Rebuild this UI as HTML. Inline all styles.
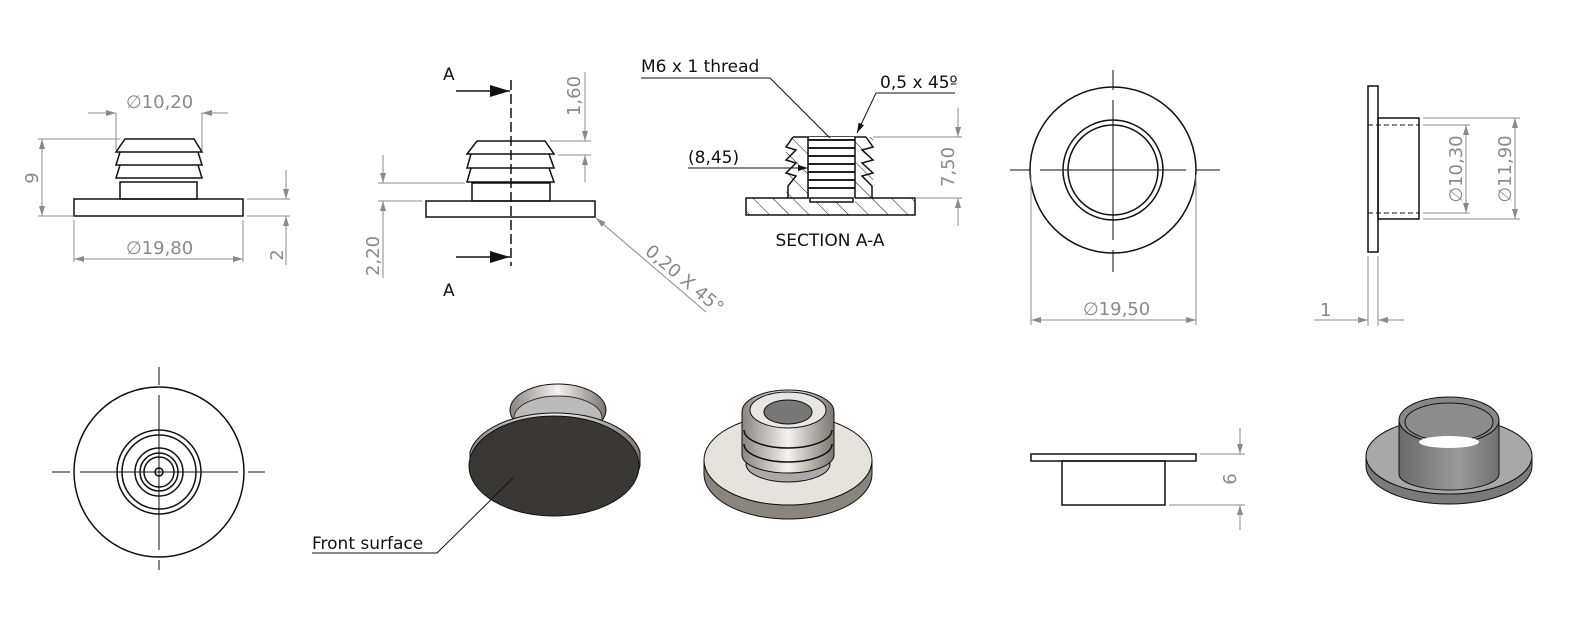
<!DOCTYPE html>
<html><head><meta charset="utf-8"><style>
html,body{margin:0;padding:0;background:#fff;}
svg{display:block;font-family:"DejaVu Sans","Liberation Sans",sans-serif;}
.d{stroke:#8a8a8a;stroke-width:1;fill:none}
.k{stroke:#111;stroke-width:1.5;fill:none}
.t{fill:#8a8a8a;font-size:18px}
.b{fill:#111;font-size:17px}
</style></head><body>
<svg width="1572" height="624" viewBox="0 0 1572 624" xmlns="http://www.w3.org/2000/svg">
<defs>
<marker id="a" viewBox="0 0 10 6" refX="10" refY="3" markerWidth="14" markerHeight="6" markerUnits="userSpaceOnUse" orient="auto-start-reverse"><path d="M0,0L10,3L0,6z" fill="#8a8a8a"/></marker>
<marker id="ak" viewBox="0 0 10 6" refX="10" refY="3" markerWidth="26" markerHeight="12" markerUnits="userSpaceOnUse" orient="auto"><path d="M0,0L10,3L0,6z" fill="#111"/></marker>
<marker id="as" viewBox="0 0 10 6" refX="10" refY="3" markerWidth="14" markerHeight="6" markerUnits="userSpaceOnUse" orient="auto"><path d="M0,0L10,3L0,6z" fill="#111"/></marker>
<pattern id="h" width="14" height="14" patternUnits="userSpaceOnUse" patternTransform="rotate(-45)"><line x1="0" y1="0" x2="0" y2="14" stroke="#111" stroke-width="1"/></pattern>
<linearGradient id="g1" x1="0" x2="1"><stop offset="0" stop-color="#8a8580"/><stop offset=".5" stop-color="#f4f2ef"/><stop offset="1" stop-color="#7a7570"/></linearGradient>
<linearGradient id="g2" x1="0" x2="1"><stop offset="0" stop-color="#6a6a6a"/><stop offset=".6" stop-color="#9a9a9a"/><stop offset="1" stop-color="#707070"/></linearGradient>
</defs>

<!-- View 1 -->
<rect class="k" x="74" y="199" width="169" height="17"/>
<rect class="k" x="120" y="182" width="77" height="17"/>
<path class="k" d="M125,139H194L202,152H116Z M120,152H198L202,165H116Z M120,165H198L202,178H116Z M120,178H197"/>
<path class="d" d="M116,113V150M202,113V150M88,113H116M202,113H228"/>
<line class="d" x1="96" y1="113" x2="116" y2="113" marker-end="url(#a)"/>
<line class="d" x1="222" y1="113" x2="202" y2="113" marker-end="url(#a)"/>
<text class="t" x="126" y="108">∅10,20</text>
<path class="d" d="M38,139H120M38,216H74"/>
<line class="d" x1="42" y1="178" x2="42" y2="139" marker-end="url(#a)"/>
<line class="d" x1="42" y1="178" x2="42" y2="216" marker-end="url(#a)"/>
<text class="t" transform="translate(38,178) rotate(-90)" text-anchor="middle">9</text>
<path class="d" d="M74,220V262M243,220V262M247,199H290M247,216H290"/>
<line class="d" x1="158" y1="259" x2="74" y2="259" marker-end="url(#a)"/>
<line class="d" x1="158" y1="259" x2="243" y2="259" marker-end="url(#a)"/>
<text class="t" x="126" y="254">∅19,80</text>
<line class="d" x1="286" y1="170" x2="286" y2="199" marker-end="url(#a)"/>
<line class="d" x1="286" y1="265" x2="286" y2="216" marker-end="url(#a)"/>
<text class="t" transform="translate(283,255) rotate(-90)" text-anchor="middle">2</text>

<!-- View 2 -->
<rect class="k" x="426" y="201" width="169" height="16"/>
<rect class="k" x="472" y="183" width="78" height="18"/>
<path class="k" d="M477,141H545L554,154H467Z M471,154H549L554,168H467Z M471,168H549L554,182H467Z"/>
<line x1="511" y1="80" x2="511" y2="266" stroke="#111" stroke-width="1.5" stroke-dasharray="10,4"/>
<line x1="456" y1="91" x2="510" y2="91" stroke="#111" stroke-width="1.5" marker-end="url(#ak)"/>
<line x1="456" y1="257" x2="510" y2="257" stroke="#111" stroke-width="1.5" marker-end="url(#ak)"/>
<text class="b" x="443" y="80">A</text>
<text class="b" x="443" y="296">A</text>
<path class="d" d="M550,141H591M558,155H591M378,183H465M378,201H422"/>
<line class="d" x1="585" y1="72" x2="585" y2="141" marker-end="url(#a)"/>
<line class="d" x1="585" y1="182" x2="585" y2="155" marker-end="url(#a)"/>
<text class="t" transform="translate(580,96) rotate(-90)" text-anchor="middle">1,60</text>
<line class="d" x1="383" y1="155" x2="383" y2="183" marker-end="url(#a)"/>
<line class="d" x1="383" y1="278" x2="383" y2="201" marker-end="url(#a)"/>
<text class="t" transform="translate(379,256) rotate(-90)" text-anchor="middle">2,20</text>
<line class="d" x1="706" y1="312" x2="596" y2="218" marker-end="url(#a)"/>
<text class="t" transform="translate(644,253) rotate(40)">0,20 X 45°</text>

<!-- Section -->
<path d="M746,198H915V215H746Z" fill="url(#h)" stroke="#111" stroke-width="1.5"/>
<path d="M786,145 L793,137H873V198H786Z" fill="url(#h)" stroke="none"/>
<path class="k" d="M793,137L786,147L796,150L786,160L796,163L786,173L796,176L788,186V198 M866,137L873,147L862,150L873,160L862,163L873,173L862,176L872,186V198 M793,137H866"/>
<rect x="809" y="137" width="46" height="65" fill="#fff"/>
<g stroke="#222" stroke-width="2">
<line x1="808" y1="140" x2="855" y2="140"/><line x1="808" y1="148" x2="855" y2="148"/><line x1="808" y1="156" x2="855" y2="156"/><line x1="808" y1="164" x2="855" y2="164"/><line x1="808" y1="172" x2="855" y2="172"/><line x1="808" y1="180" x2="855" y2="180"/><line x1="808" y1="188" x2="855" y2="188"/>
</g>
<path class="k" d="M808,137V198M855,137V198M810,198H853V202H810Z"/>
<text class="b" x="641" y="72">M6 x 1 thread</text>
<path stroke="#111" fill="none" d="M641,78H770L830,138M876,93H955"/>
<line x1="876" y1="93" x2="857" y2="133" stroke="#111" marker-end="url(#as)"/>
<line x1="688" y1="168" x2="808" y2="168" stroke="#111" marker-end="url(#as)"/>
<text class="b" x="880" y="88">0,5 x 45º</text>
<text class="b" x="688" y="163">(8,45)</text>
<path class="d" d="M873,137H962M915,198H962"/>
<line class="d" x1="958" y1="108" x2="958" y2="137" marker-end="url(#a)"/>
<line class="d" x1="958" y1="226" x2="958" y2="198" marker-end="url(#a)"/>
<text class="t" transform="translate(954,167) rotate(-90)" text-anchor="middle">7,50</text>
<text class="b" x="830" y="246" text-anchor="middle">SECTION A-A</text>

<!-- circle top -->
<circle class="k" cx="1113" cy="170" r="83"/>
<circle class="k" cx="1113" cy="170" r="50"/>
<circle class="k" cx="1113" cy="170" r="45"/>
<path stroke="#111" d="M1010,170H1030M1040,170H1186M1196,170H1220M1113,70V90M1113,100V240M1113,250V272"/>
<path class="d" d="M1031,175V325M1196,175V325"/>
<line class="d" x1="1113" y1="320" x2="1031" y2="320" marker-end="url(#a)"/>
<line class="d" x1="1113" y1="320" x2="1196" y2="320" marker-end="url(#a)"/>
<text class="t" x="1083" y="315">∅19,50</text>

<!-- side view -->
<rect class="k" x="1368" y="86" width="10" height="166"/>
<rect class="k" x="1378" y="118" width="41" height="101"/>
<path stroke="#111" stroke-dasharray="5,3" d="M1368,125H1419M1368,213H1419"/>
<path class="d" d="M1423,118H1520M1423,219H1520M1423,125H1470M1423,213H1470"/>
<line class="d" x1="1466" y1="169" x2="1466" y2="125" marker-end="url(#a)"/>
<line class="d" x1="1466" y1="169" x2="1466" y2="213" marker-end="url(#a)"/>
<text class="t" transform="translate(1462,169) rotate(-90)" text-anchor="middle">∅10,30</text>
<line class="d" x1="1515" y1="169" x2="1515" y2="118" marker-end="url(#a)"/>
<line class="d" x1="1515" y1="169" x2="1515" y2="219" marker-end="url(#a)"/>
<text class="t" transform="translate(1511,169) rotate(-90)" text-anchor="middle">∅11,90</text>
<path class="d" d="M1368,256V326M1378,256V326"/>
<line class="d" x1="1314" y1="320" x2="1368" y2="320" marker-end="url(#a)"/>
<line class="d" x1="1404" y1="320" x2="1378" y2="320" marker-end="url(#a)"/>
<text class="t" x="1320" y="316">1</text>

<!-- bottom left circle -->
<circle class="k" cx="159" cy="472" r="85"/>
<circle class="k" cx="159" cy="472" r="42"/>
<circle class="k" cx="159" cy="472" r="37"/>
<circle class="k" cx="159" cy="472" r="24"/>
<circle class="k" cx="159" cy="472" r="19"/>
<circle class="k" cx="159" cy="472" r="15"/>
<circle class="k" cx="159" cy="472" r="4" stroke-width="1"/>
<path stroke="#111" d="M52,472H70M80,472H238M248,472H265M159,367V385M159,395V550M159,560V570"/>

<!-- 3D dark -->
<ellipse cx="558" cy="410" rx="48" ry="26" fill="url(#g1)" stroke="#111"/>
<ellipse cx="558" cy="418" rx="44" ry="22" fill="#bbb" stroke="#333"/>
<path d="M470,452 A86,46 0 0 1 640,452 L640,466 A86,50 0 0 1 470,466Z" fill="url(#g1)" stroke="#111"/>
<ellipse cx="554" cy="466" rx="85" ry="50" fill="#3a3836" stroke="#111"/>
<text class="b" x="312" y="549">Front surface</text>
<path stroke="#111" fill="none" d="M312,553H437L513,478"/>

<!-- 3D light -->
<path d="M704,460 A84,45 0 0 0 872,460 V474 A84,45 0 0 1 704,474Z" fill="#8a857f" stroke="#111"/>
<ellipse cx="788" cy="460" rx="84" ry="45" fill="#e6e2dd" stroke="#111"/>
<ellipse cx="788" cy="464" rx="42" ry="18" fill="#aaa" stroke="#111"/>
<path d="M742,412 A46,22 0 0 1 834,412 L834,455 A46,18 0 0 1 742,455Z" fill="url(#g1)" stroke="#111"/>
<path class="k" stroke-width="1" d="M744,430 A44,18 0 0 0 832,430 M744,444 A44,18 0 0 0 832,444"/>
<ellipse cx="788" cy="410" rx="38" ry="18" fill="#e8e6e3" stroke="#111"/>
<ellipse cx="788" cy="412" rx="24" ry="12" fill="#777" stroke="#111"/>

<!-- bottom right view -->
<rect class="k" x="1031" y="454" width="165" height="7"/>
<rect class="k" x="1062" y="461" width="103" height="44"/>
<path class="d" d="M1200,454H1245M1169,505H1245"/>
<line class="d" x1="1240" y1="428" x2="1240" y2="454" marker-end="url(#a)"/>
<line class="d" x1="1240" y1="530" x2="1240" y2="505" marker-end="url(#a)"/>
<text class="t" transform="translate(1236,479) rotate(-90)" text-anchor="middle">6</text>

<!-- gray ring -->
<path d="M1366,456 A83,38 0 0 0 1532,456 V466 A83,38 0 0 1 1366,466Z" fill="#7a7a7a" stroke="#111"/>
<ellipse cx="1449" cy="456" rx="83" ry="38" fill="#a8a8a8" stroke="#111"/>
<path d="M1399,420 V474 A50,16 0 0 0 1499,474 V420Z" fill="url(#g2)" stroke="#111"/>
<ellipse cx="1449" cy="420" rx="50" ry="23" fill="#888" stroke="#111"/>
<ellipse cx="1449" cy="422" rx="44" ry="19" fill="#8c8c8c" stroke="#111"/>
<ellipse cx="1449" cy="442" rx="30" ry="6" fill="#fff"/>
</svg>
</body></html>
